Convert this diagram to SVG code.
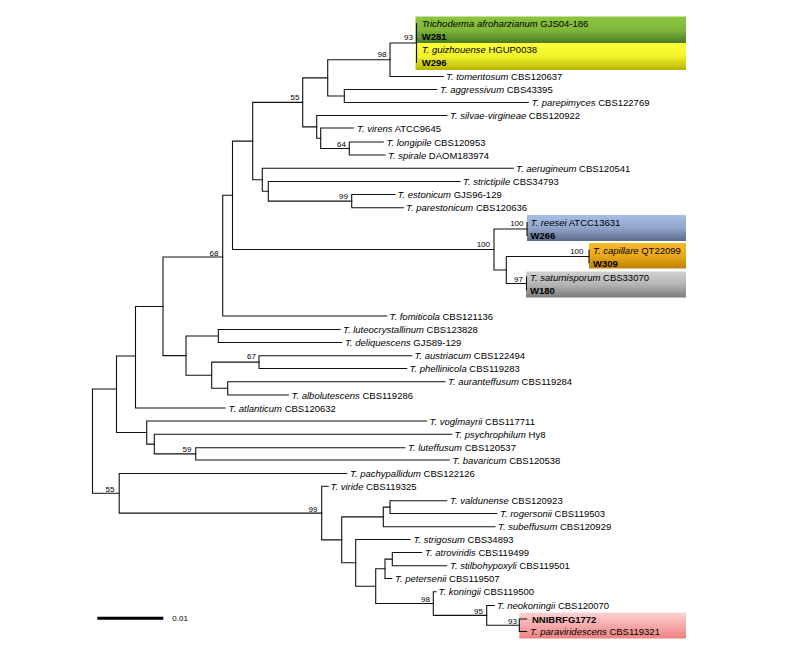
<svg xmlns="http://www.w3.org/2000/svg" width="800" height="651" viewBox="0 0 800 651">
<defs>
<linearGradient id="gGreen" x1="0" y1="0" x2="0" y2="1"><stop offset="0" stop-color="#8cc63e"/><stop offset="0.5" stop-color="#7fb83a"/><stop offset="1" stop-color="#4a7a28"/></linearGradient>
<linearGradient id="gYellow" x1="0" y1="0" x2="0" y2="1"><stop offset="0" stop-color="#ffff3a"/><stop offset="0.5" stop-color="#f2f22c"/><stop offset="1" stop-color="#b4b400"/></linearGradient>
<linearGradient id="gBlue" x1="0" y1="0" x2="0" y2="1"><stop offset="0" stop-color="#a8bee6"/><stop offset="0.5" stop-color="#91a5cb"/><stop offset="1" stop-color="#5c6b8a"/></linearGradient>
<linearGradient id="gOrange" x1="0" y1="0" x2="0" y2="1"><stop offset="0" stop-color="#f7bb2c"/><stop offset="0.5" stop-color="#eaa81a"/><stop offset="1" stop-color="#bf8200"/></linearGradient>
<linearGradient id="gGrey" x1="0" y1="0" x2="0" y2="1"><stop offset="0" stop-color="#d0d0d0"/><stop offset="0.5" stop-color="#b4b4b4"/><stop offset="1" stop-color="#7c7c7c"/></linearGradient>
<linearGradient id="gPink" x1="0" y1="0" x2="0" y2="1"><stop offset="0" stop-color="#fbd2d2"/><stop offset="0.5" stop-color="#f6aaaa"/><stop offset="1" stop-color="#ee8080"/></linearGradient>
</defs>
<style>
.br{fill:none;stroke:#111;stroke-width:1.1;stroke-linecap:square}
.lf{font-family:"Liberation Sans",Arial,sans-serif;font-size:9.5px;fill:#000}
.sp{font-style:italic}
.bd{font-weight:bold}
.bs{font-family:"Liberation Sans",Arial,sans-serif;font-size:8px;fill:#000;text-anchor:end}
</style>
<rect width="800" height="651" fill="#fff"/>

<g id="boxes">
<rect x="415.5" y="16.5" width="270.5" height="26.5" fill="url(#gGreen)"/>
<rect x="415.5" y="43" width="270.5" height="27" fill="url(#gYellow)"/>
<rect x="527" y="215" width="159" height="26" fill="url(#gBlue)"/>
<rect x="589" y="243" width="97" height="25.5" fill="url(#gOrange)"/>
<rect x="526" y="271.5" width="160" height="26" fill="url(#gGrey)"/>
<rect x="519.3" y="612.5" width="166.7" height="26" fill="url(#gPink)"/>
</g>

<g id="connectors" class="br">
<path d="M416.5,23.5 V62.5"/>
<path d="M416.5,43 H390 V76.5 H443.3"/>
<path d="M390,59.75 H327.7 V96 H344.3"/>
<path d="M436.7,89.5 H344.3 V102.5 H528.3"/>
<path d="M327.7,77.9 H302.7 V126.9 H316.7"/>
<path d="M446.7,115.5 H316.7 V138.25 H320.7"/>
<path d="M353.3,128 H320.7 V148.5 H349.3"/>
<path d="M383.3,142 H349.3 V155 H385"/>
<path d="M302.7,102.4 H252.7 V179.8 H262.3"/>
<path d="M513.3,168.3 H262.3 V191.3 H268.3"/>
<path d="M460,181.5 H268.3 V201.1 H351.7"/>
<path d="M395,194.5 H351.7 V207.7 H403.3"/>
<path d="M252.7,141.1 H232.5 V249.5 H494"/>
<path d="M527,229 H494 V270 H506.3"/>
<path d="M589,256.5 H506.3 V283.5 H526.5"/>
<path d="M527,222.5 V235.5"/>
<path d="M589,250 V263"/>
<path d="M526.5,277 V290"/>
<path d="M232.5,195.3 H222.7 V316 H386.7"/>
<path d="M222.7,257 H163 V355.6 H186"/>
<path d="M218.3,336 H186 V375.2 H211.7"/>
<path d="M340,329.5 H218.3 V342.5 H341.7"/>
<path d="M259,362.1 H211.7 V388.3 H227.7"/>
<path d="M411.7,355.7 H259 V368.5 H406.7"/>
<path d="M445,381.7 H227.7 V395 H288.3"/>
<path d="M163,306.5 H135.5 V408 H225"/>
<path d="M135.5,356 H116.5 V432.5 H146.7"/>
<path d="M426.7,421 H146.7 V444.1 H154.3"/>
<path d="M451.7,434.3 H154.3 V453.9 H195.7"/>
<path d="M405,447.7 H195.7 V460 H449.3"/>
<path d="M116.5,389 H92.5 V493.3 H119.2"/>
<path d="M346.7,473.5 H119.2 V513.1 H321.7"/>
<path d="M328.3,486.3 H321.7 V539.9 H341.7"/>
<path d="M383.3,516.9 H341.7 V562.8 H355.7"/>
<path d="M390,507.1 H383.3 V526.7 H495"/>
<path d="M446.7,500.7 H390 V513.5 H496.7"/>
<path d="M410,539.5 H355.7 V586.2 H375.7"/>
<path d="M385,568.8 H375.7 V603.5 H433.3"/>
<path d="M392.3,559.1 H385 V578.5 H391.7"/>
<path d="M421.7,552.5 H392.3 V565.7 H446.7"/>
<path d="M436,591.7 H433.3 V615.4 H486.7"/>
<path d="M494.3,605.5 H486.7 V625.25 H519.3"/>
<path d="M526.7,619 H519.3 V631.5 H526.7"/>
</g>

<g id="support">
<text class="bs" x="413" y="40">93</text>
<text class="bs" x="386.5" y="57">98</text>
<text class="bs" x="299.5" y="100">55</text>
<text class="bs" x="346" y="146.5">64</text>
<text class="bs" x="348" y="199">99</text>
<text class="bs" x="523.5" y="226">100</text>
<text class="bs" x="490" y="247">100</text>
<text class="bs" x="583.5" y="254">100</text>
<text class="bs" x="523" y="282">97</text>
<text class="bs" x="218.5" y="255.5">68</text>
<text class="bs" x="256" y="359">67</text>
<text class="bs" x="191.5" y="452">59</text>
<text class="bs" x="114.5" y="492">55</text>
<text class="bs" x="317.5" y="511.5">99</text>
<text class="bs" x="430" y="601.7">98</text>
<text class="bs" x="483" y="613.7">95</text>
<text class="bs" x="517" y="623.5">93</text>
</g>

<g id="leaf-afroharzianum"><text class="lf" x="421.7" y="27"><tspan class="sp">Trichoderma afroharzianum</tspan> GJS04-186</text></g>
<g id="leaf-W281"><text class="lf bd" x="421.7" y="40">W281</text></g>
<g id="leaf-guizhouense"><text class="lf" x="421.7" y="53"><tspan class="sp">T. guizhouense</tspan> HGUP0038</text></g>
<g id="leaf-W296"><text class="lf bd" x="421.7" y="66">W296</text></g>
<g id="leaf-tomentosum"><text class="lf" x="446" y="80"><tspan class="sp">T. tomentosum</tspan> CBS120637</text></g>
<g id="leaf-aggressivum"><text class="lf" x="440" y="93"><tspan class="sp">T. aggressivum</tspan> CBS43395</text></g>
<g id="leaf-parepimyces"><text class="lf" x="531.5" y="106"><tspan class="sp">T. parepimyces</tspan> CBS122769</text></g>
<g id="leaf-silvae-virgineae"><text class="lf" x="450" y="119"><tspan class="sp">T. silvae-virgineae</tspan> CBS120922</text></g>
<g id="leaf-virens"><text class="lf" x="357" y="131.5"><tspan class="sp">T. virens</tspan> ATCC9645</text></g>
<g id="leaf-longipile"><text class="lf" x="386.5" y="145.5"><tspan class="sp">T. longipile</tspan> CBS120953</text></g>
<g id="leaf-spirale"><text class="lf" x="388" y="158.5"><tspan class="sp">T. spirale</tspan> DAOM183974</text></g>
<g id="leaf-aerugineum"><text class="lf" x="516" y="171.8"><tspan class="sp">T. aerugineum</tspan> CBS120541</text></g>
<g id="leaf-strictipile"><text class="lf" x="463" y="185"><tspan class="sp">T. strictipile</tspan> CBS34793</text></g>
<g id="leaf-estonicum"><text class="lf" x="397.5" y="198"><tspan class="sp">T. estonicum</tspan> GJS96-129</text></g>
<g id="leaf-parestonicum"><text class="lf" x="406" y="211.2"><tspan class="sp">T. parestonicum</tspan> CBS120636</text></g>
<g id="leaf-reesei"><text class="lf" x="530.5" y="226"><tspan class="sp">T. reesei</tspan> ATCC13631</text></g>
<g id="leaf-W266"><text class="lf bd" x="530.5" y="239">W266</text></g>
<g id="leaf-capillare"><text class="lf" x="593" y="253.5"><tspan class="sp">T. capillare</tspan> QT22099</text></g>
<g id="leaf-W309"><text class="lf bd" x="593" y="266.5">W309</text></g>
<g id="leaf-saturnisporum"><text class="lf" x="530" y="280.5"><tspan class="sp">T. saturnisporum</tspan> CBS33070</text></g>
<g id="leaf-W180"><text class="lf bd" x="530" y="293.5">W180</text></g>
<g id="leaf-fomiticola"><text class="lf" x="389.5" y="319.5"><tspan class="sp">T. fomiticola</tspan> CBS121136</text></g>
<g id="leaf-luteocrystallinum"><text class="lf" x="343" y="333"><tspan class="sp">T. luteocrystallinum</tspan> CBS123828</text></g>
<g id="leaf-deliquescens"><text class="lf" x="345" y="346"><tspan class="sp">T. deliquescens</tspan> GJS89-129</text></g>
<g id="leaf-austriacum"><text class="lf" x="414.5" y="359.2"><tspan class="sp">T. austriacum</tspan> CBS122494</text></g>
<g id="leaf-phellinicola"><text class="lf" x="409.5" y="372"><tspan class="sp">T. phellinicola</tspan> CBS119283</text></g>
<g id="leaf-auranteffusum"><text class="lf" x="448" y="385.2"><tspan class="sp">T. auranteffusum</tspan> CBS119284</text></g>
<g id="leaf-albolutescens"><text class="lf" x="291.5" y="398.5"><tspan class="sp">T. albolutescens</tspan> CBS119286</text></g>
<g id="leaf-atlanticum"><text class="lf" x="228.5" y="411.5"><tspan class="sp">T. atlanticum</tspan> CBS120632</text></g>
<g id="leaf-voglmayrii"><text class="lf" x="429.5" y="424.5"><tspan class="sp">T. voglmayrii</tspan> CBS117711</text></g>
<g id="leaf-psychrophilum"><text class="lf" x="454.5" y="437.8"><tspan class="sp">T. psychrophilum</tspan> Hy8</text></g>
<g id="leaf-luteffusum"><text class="lf" x="408" y="451.2"><tspan class="sp">T. luteffusum</tspan> CBS120537</text></g>
<g id="leaf-bavaricum"><text class="lf" x="452.5" y="463.5"><tspan class="sp">T. bavaricum</tspan> CBS120538</text></g>
<g id="leaf-pachypallidum"><text class="lf" x="350" y="477"><tspan class="sp">T. pachypallidum</tspan> CBS122126</text></g>
<g id="leaf-viride"><text class="lf" x="330.5" y="489.8"><tspan class="sp">T. viride</tspan> CBS119325</text></g>
<g id="leaf-valdunense"><text class="lf" x="450" y="504.2"><tspan class="sp">T. valdunense</tspan> CBS120923</text></g>
<g id="leaf-rogersonii"><text class="lf" x="500" y="517"><tspan class="sp">T. rogersonii</tspan> CBS119503</text></g>
<g id="leaf-subeffusum"><text class="lf" x="498" y="530.2"><tspan class="sp">T. subeffusum</tspan> CBS120929</text></g>
<g id="leaf-strigosum"><text class="lf" x="413.5" y="543"><tspan class="sp">T. strigosum</tspan> CBS34893</text></g>
<g id="leaf-atroviridis"><text class="lf" x="425" y="556"><tspan class="sp">T. atroviridis</tspan> CBS119499</text></g>
<g id="leaf-stilbohypoxyli"><text class="lf" x="450" y="569.2"><tspan class="sp">T. stilbohypoxyli</tspan> CBS119501</text></g>
<g id="leaf-petersenii"><text class="lf" x="395" y="582"><tspan class="sp">T. petersenii</tspan> CBS119507</text></g>
<g id="leaf-koningii"><text class="lf" x="438.5" y="595.2"><tspan class="sp">T. koningii</tspan> CBS119500</text></g>
<g id="leaf-neokoningii"><text class="lf" x="497" y="609"><tspan class="sp">T. neokoningii</tspan> CBS120070</text></g>
<g id="leaf-NNIBRFG1772"><text class="lf bd" x="532" y="622.5">NNIBRFG1772</text></g>
<g id="leaf-paraviridescens"><text class="lf" x="530" y="635"><tspan class="sp">T. paraviridescens</tspan> CBS119321</text></g>

<g id="scale-bar">
<line x1="97.3" y1="618.3" x2="163.3" y2="618.3" stroke="#000" stroke-width="3"/>
<text class="lf" x="172.3" y="621.3" style="font-size:8px">0.01</text>
</g>
</svg>
